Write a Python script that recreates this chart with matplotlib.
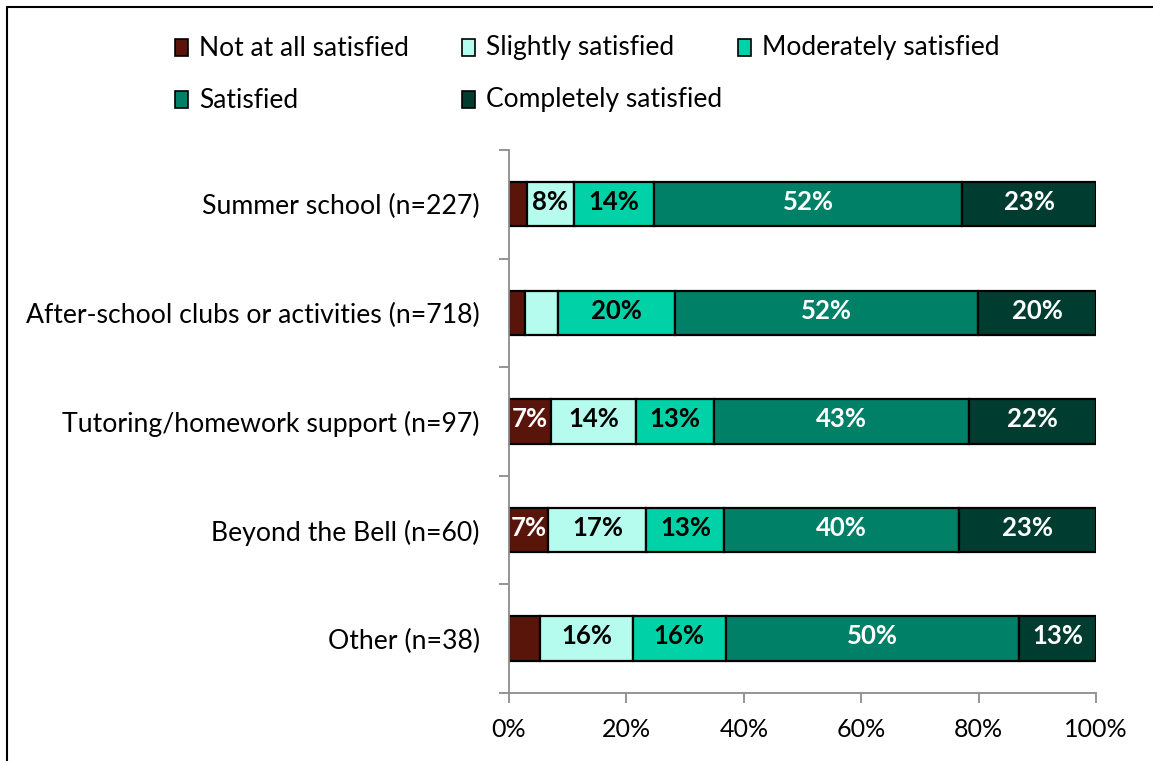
import matplotlib.pyplot as plt
from matplotlib.patches import Rectangle

programs = [
    "Summer school (n=227)",
    "After-school clubs or activities (n=718)",
    "Tutoring/homework support (n=97)",
    "Beyond the Bell (n=60)",
    "Other (n=38)",
]
levels = [
    "Not at all satisfied",
    "Slightly satisfied",
    "Moderately satisfied",
    "Satisfied",
    "Completely satisfied",
]
# percent of respondents per program, one list per satisfaction level
not_at_all = [3.1, 2.8, 7.2, 6.7, 5.3]
slightly = [7.9, 5.6, 14.4, 16.7, 15.8]
moderately = [13.7, 19.9, 13.4, 13.3, 15.8]
satisfied = [52.5, 51.6, 43.3, 40.0, 50.0]
completely = [22.8, 20.1, 21.7, 23.3, 13.1]
ticks = [0, 20, 40, 60, 80, 100]

colors = ["#5a150b", "#b5fcef", "#00d1a7", "#008066", "#003d30"]
text_colors = ["white", "black", "black", "white", "white"]

plt.rcParams["font.family"] = ["Lato", "DejaVu Sans"]

fig = plt.figure(figsize=(11.53, 7.61), dpi=100)
ax = fig.add_axes([0.4415, 0.0894, 0.5091, 0.7136])

series = [not_at_all, slightly, moderately, satisfied, completely]
ypos = list(range(len(programs)))
left = [0.0] * len(programs)
for vals, col, tcol in zip(series, colors, text_colors):
    ax.barh(ypos, vals, left=left, height=0.41, color=col,
            edgecolor="black", linewidth=1.6)
    for y, v, l in zip(ypos, vals, left):
        if v >= 6:
            ax.text(l + v / 2, y - 0.02, f"{v:.0f}%", ha="center", va="center",
                    color=tcol, fontsize=18.5, fontweight="bold")
    left = [a + b for a, b in zip(left, vals)]

ax.set_xlim(0, 100)
ax.set_ylim(len(programs) - 0.5, -0.5)
ax.set_xticks(ticks)
ax.set_xticklabels([f"{t}%" for t in ticks], fontsize=18)
ax.set_yticks(ypos)
ax.set_yticklabels(programs, fontsize=19.2)
ax.set_yticks([i - 0.5 for i in range(len(programs) + 1)], minor=True)
ax.tick_params(axis="y", which="major", length=0, pad=21)
ax.tick_params(axis="y", which="minor", length=7, color="#8c8c8c", width=1.3)
ax.tick_params(axis="x", length=7, color="#8c8c8c", width=1.3, pad=11)
for side in ["top", "right"]:
    ax.spines[side].set_visible(False)
for side in ["left", "bottom"]:
    ax.spines[side].set_color("#8c8c8c")
    ax.spines[side].set_linewidth(1.3)

# legend drawn as two rows of swatches
legend_pos = [(175, 48), (462, 48), (738, 48), (175, 100), (462, 100)]
W, H = 1153, 761
for (px, py), name, col in zip(legend_pos, levels, colors):
    fig.patches.append(Rectangle((px / W, 1 - (py + 8) / H), 13 / W, 17 / H,
                                 transform=fig.transFigure, facecolor=col,
                                 edgecolor="black", linewidth=1.2))
    fig.text((px + 24) / W, 1 - py / H, name, fontsize=19,
             ha="left", va="center")

# outer frame
fig.patches.append(Rectangle((7 / W, -0.02), 1.1, 1 - 7 / H + 0.02,
                             transform=fig.transFigure, fill=False,
                             edgecolor="black", linewidth=1.5))

fig.savefig("out.png", dpi=100)
